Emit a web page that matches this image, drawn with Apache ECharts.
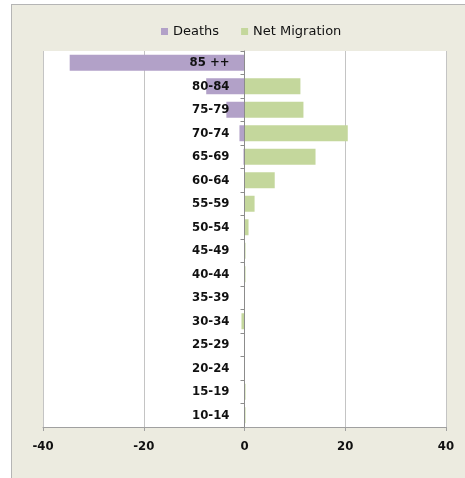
<!DOCTYPE html>
<html>
<head>
<meta charset="utf-8">
<script src="https://cdn.jsdelivr.net/npm/echarts@6/dist/echarts.min.js"></script>
<style>
    html, body {margin: 0; padding: 0; background: #ffffff; overflow: hidden; width: 465px; height: 478px;}
    .frame {position: absolute; left: 11px; top: 4px; width: 700px; height: 700px;
        background: #ecebe0; border: 1px solid #b5b5b5; box-sizing: border-box;}
    .chart_box {position: absolute; left: 0; top: 0; width: 465px; height: 478px;}
</style>
</head>
<body>
<div class="frame"></div>
<div class="chart_box" id="chartBox"></div>
<script>
// 年龄组（从上到下）
let ageGroups = ['85 ++', '80-84', '75-79', '70-74', '65-69', '60-64', '55-59', '50-54',
    '45-49', '40-44', '35-39', '30-34', '25-29', '20-24', '15-19', '10-14'];
let deaths = [-34.7, -7.6, -3.6, -1.0, -0.2, -0.1, 0, 0, 0, 0, 0, 0, 0, 0, 0, 0];
let netMigration = [0, 11.1, 11.7, 20.5, 14.1, 6.0, 2.0, 0.8, 0.2, 0.2, 0, -0.6, 0, 0, 0.2, 0.2];
let xTicks = [-40, -20, 0, 20, 40];

let gridLeft = 43, gridRight = 19;
let plotWidth = 465 - gridLeft - gridRight;
let xMin = xTicks[0], xMax = xTicks[xTicks.length - 1];
// y轴放在 0 的位置
let zeroOffset = -plotWidth * (0 - xMin) / (xMax - xMin);

let chartBox = echarts.init(document.getElementById('chartBox'));
let labelFont = {color: '#111111', fontSize: 13, fontWeight: 'bold', fontFamily: 'DejaVu Sans Condensed'};
let option = {
    backgroundColor: 'transparent',
    legend: {
        top: 20, left: 156,
        itemWidth: 7, itemHeight: 7, itemGap: 22, icon: 'rect',
        textStyle: {color: '#111111', fontSize: 13, fontFamily: 'DejaVu Sans'},
        data: ['Deaths', 'Net Migration']
    },
    grid: {
        left: gridLeft, right: gridRight, top: 51, bottom: 51, outerBoundsMode: 'none', containLabel: false,
        show: true, backgroundColor: '#ffffff', borderWidth: 0
    },
    xAxis: {
        type: 'value', min: xMin, max: xMax, interval: 20,
        axisLine: {show: true, onZero: false, lineStyle: {color: '#a0a0a0'}},
        axisTick: {show: true, length: 4, lineStyle: {color: '#a0a0a0'}},
        axisLabel: Object.assign({margin: 13}, labelFont),
        splitLine: {show: true, lineStyle: {color: '#c4c4c4'}}
    },
    yAxis: {
        type: 'category', inverse: true, z: 10,
        offset: zeroOffset,
        data: ageGroups,
        axisLine: {show: true, onZero: false, lineStyle: {color: '#8c8c8c'}},
        axisTick: {show: true, length: 4, lineStyle: {color: '#8c8c8c'}},
        axisLabel: Object.assign({margin: 15}, labelFont),
        splitLine: {show: false}
    },
    series: [
        {
            name: 'Deaths', type: 'bar', data: deaths,
            barWidth: 16, barGap: '-100%',
            itemStyle: {color: '#b2a1c8'}
        },
        {
            name: 'Net Migration', type: 'bar', data: netMigration,
            barWidth: 16, barGap: '-100%',
            itemStyle: {color: '#c4d79c'}
        }
    ]
};
chartBox.setOption(option, true);
</script>
</body>
</html>
